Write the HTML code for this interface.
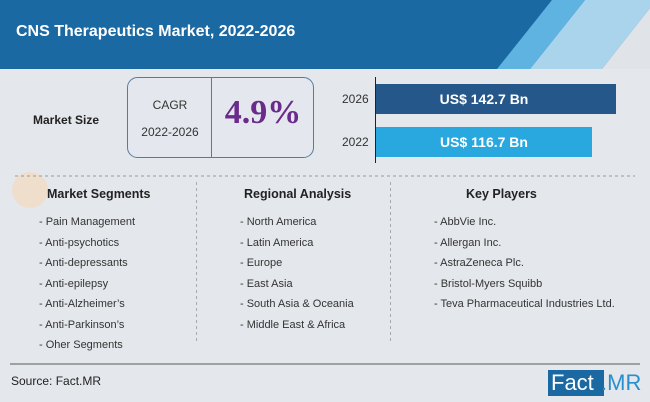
<!DOCTYPE html>
<html><head><meta charset="utf-8"><style>
*{margin:0;padding:0;box-sizing:border-box}
body{width:650px;height:402px;overflow:hidden;background:#e4e7eb;font-family:"Liberation Sans",sans-serif;position:relative;color:#222}
.a{position:absolute;white-space:nowrap}
.li{font-size:11px;color:#333}
.h{font-size:12.5px;font-weight:bold;color:#222}
</style></head><body>
<svg class="a" style="left:0;top:0" width="650" height="402">
<rect x="0" y="0" width="650" height="69" fill="#1b69a3"/>
<polygon points="530,69 585,0 650,0 650,8 602,69" fill="#a9d4ec"/>
<polygon points="497,69 552,0 585,0 530,69" fill="#5eb3e0"/>
<polygon points="602,69 650,8 650,69" fill="#e0e4e8"/>
<circle cx="30" cy="190" r="18" fill="#f6d8b8" opacity=".6"/>
<rect x="127.5" y="77.5" width="186" height="80" rx="10" fill="#e4e8ee" stroke="#5a7a9a"/>
<line x1="211.5" y1="78" x2="211.5" y2="157" stroke="#5a7a9a"/>
<line x1="375.5" y1="77" x2="375.5" y2="163" stroke="#222"/>
<rect x="376" y="84" width="240" height="30" fill="#26578a"/>
<rect x="376" y="127" width="216" height="30" fill="#29a8e0"/>
<line x1="15" y1="176" x2="635" y2="176" stroke="#999" stroke-dasharray="3,3"/>
<line x1="196.5" y1="182" x2="196.5" y2="344" stroke="#aaa" stroke-dasharray="3,3"/>
<line x1="390.5" y1="182" x2="390.5" y2="344" stroke="#aaa" stroke-dasharray="3,3"/>
<line x1="10" y1="364" x2="640" y2="364" stroke="#888" stroke-width="1.5"/>
<rect x="548" y="370" width="56" height="26" fill="#1b69a3"/>
</svg>
<div class="a" style="left:16px;top:23px;color:#fff;font-size:16px;font-weight:bold">CNS Therapeutics Market, 2022-2026</div>
<div class="a" style="left:33px;top:113px;font-size:12px;font-weight:bold">Market Size</div>
<div class="a" style="left:128px;top:98px;width:84px;text-align:center;font-size:12px;color:#333">CAGR</div>
<div class="a" style="left:128px;top:125px;width:84px;text-align:center;font-size:12px;color:#333">2022-2026</div>
<div class="a" style="left:212px;top:94px;width:102px;text-align:center;font-family:'Liberation Serif',serif;font-size:34px;font-weight:bold;color:#6a2b8c">4.9%</div>
<div class="a" style="left:342px;top:92px;font-size:12px;color:#333">2026</div>
<div class="a" style="left:342px;top:135px;font-size:12px;color:#333">2022</div>
<div class="a" style="left:376px;top:91px;width:216px;text-align:center;color:#fff;font-size:14px;font-weight:bold">US$ 142.7 Bn</div>
<div class="a" style="left:376px;top:134px;width:216px;text-align:center;color:#fff;font-size:14px;font-weight:bold">US$ 116.7 Bn</div>
<div class="a h" style="left:47px;top:187px">Market Segments</div>
<div class="a h" style="left:244px;top:187px">Regional Analysis</div>
<div class="a h" style="left:466px;top:187px">Key Players</div>
<div class="a li" style="left:39px;top:212px;line-height:20.5px">- Pain Management<br>- Anti-psychotics<br>- Anti-depressants<br>- Anti-epilepsy<br>- Anti-Alzheimer’s<br>- Anti-Parkinson’s<br>- Oher Segments</div>
<div class="a li" style="left:240px;top:212px;line-height:20.5px">- North America<br>- Latin America<br>- Europe<br>- East Asia<br>- South Asia &amp; Oceania<br>- Middle East &amp; Africa</div>
<div class="a li" style="left:434px;top:212px;line-height:20.5px">- AbbVie Inc.<br>- Allergan Inc.<br>- AstraZeneca Plc.<br>- Bristol-Myers Squibb<br>- Teva Pharmaceutical Industries Ltd.</div>
<div class="a" style="left:11px;top:374px;font-size:12px;color:#222">Source: Fact.MR</div>
<div class="a" style="left:551px;top:369px;font-size:22px;color:#fff;line-height:27px">Fact</div>
<div class="a" style="left:601px;top:369px;font-size:22px;color:#2a8fd0;line-height:27px">.MR</div>
</body></html>
